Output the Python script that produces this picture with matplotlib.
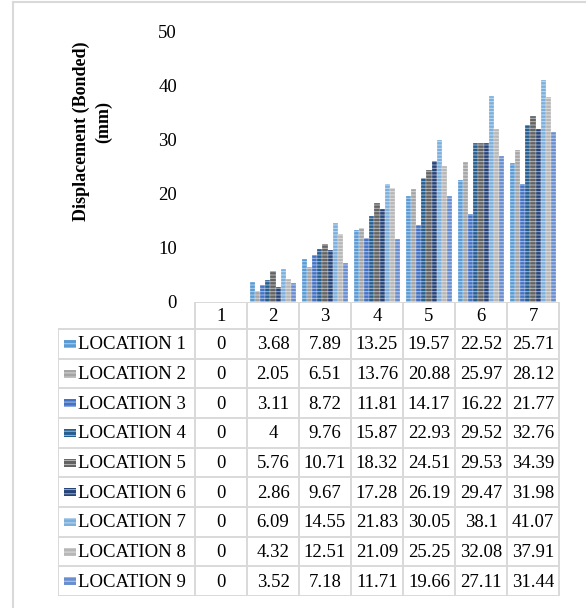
import numpy as np
import matplotlib
matplotlib.use('Agg')
from matplotlib import pyplot as plt
from matplotlib.patches import Rectangle
from matplotlib.lines import Line2D

plt.rcParams['font.family'] = ['Liberation Serif', 'DejaVu Serif']
plt.rcParams['hatch.linewidth'] = 0.7

steps = ['1', '2', '3', '4', '5', '6', '7']
locations = ['LOCATION %d' % i for i in range(1, 10)]

loc1 = [0, 3.68, 7.89, 13.25, 19.57, 22.52, 25.71]
loc2 = [0, 2.05, 6.51, 13.76, 20.88, 25.97, 28.12]
loc3 = [0, 3.11, 8.72, 11.81, 14.17, 16.22, 21.77]
loc4 = [0, 4, 9.76, 15.87, 22.93, 29.52, 32.76]
loc5 = [0, 5.76, 10.71, 18.32, 24.51, 29.53, 34.39]
loc6 = [0, 2.86, 9.67, 17.28, 26.19, 29.47, 31.98]
loc7 = [0, 6.09, 14.55, 21.83, 30.05, 38.1, 41.07]
loc8 = [0, 4.32, 12.51, 21.09, 25.25, 32.08, 37.91]
loc9 = [0, 3.52, 7.18, 11.71, 19.66, 27.11, 31.44]
series = [loc1, loc2, loc3, loc4, loc5, loc6, loc7, loc8, loc9]

colors = ['#5b9bd5', '#a5a5a5', '#4472c4', '#255e91', '#636363',
          '#264478', '#7cafdd', '#b7b7b7', '#698ed0']
grid_col = '#d9d9d9'
hatch_col = (1, 1, 1, 0.55)
fs = 13.5

W, H = 586, 608
fig = plt.figure(figsize=(W / 100, H / 100), dpi=100)

def box(x0, y0, x1, y1):
    # pixel box (top-left origin) -> figure fraction
    return [x0 / W, 1 - y1 / H, (x1 - x0) / W, (y1 - y0) / H]

# chart area border
fig.add_artist(Line2D([13 / W, 13 / W], [0, 1 - 2 / H], color=grid_col, lw=1.5))
fig.add_artist(Line2D([13 / W, 1], [1 - 2 / H, 1 - 2 / H], color=grid_col, lw=1.5))

# columns
ax = fig.add_axes(box(195, 32, 559, 302))
n = len(series)
group = 0.88
bw = group / n
x = np.arange(len(steps)) + 0.5
for i, vals in enumerate(series):
    ax.bar(x - group / 2 + bw * (i + 0.5), vals, width=bw, color=colors[i],
           edgecolor=hatch_col, linewidth=0.3, hatch='-----')
ax.set_xlim(0, len(steps))
ax.set_ylim(0, 50)
ax.set_yticks(range(0, 51, 10))
ax.set_xticks([])
ax.tick_params(axis='y', length=0, pad=13, labelsize=fs)
for s in ax.spines.values():
    s.set_visible(False)

fig.text(81 / W, 1 - 131 / H, 'Displacement (Bonded)', rotation=90,
         ha='center', va='center', fontsize=13, fontweight='bold')
fig.text(104 / W, 1 - 122 / H, '(mm)', rotation=90,
         ha='center', va='center', fontsize=13, fontweight='bold')

# data table below the columns
tb = fig.add_axes(box(58, 302, 560, 596))
xl = -(195 - 58) / 52
tb.set_xlim(xl, 7 + 1 / 52)
tb.set_ylim(294, 0)
tb.axis('off')

head = 27
rh = (294 - head) / n
lw = 1.4
tb.plot([0, 7], [0, 0], color=grid_col, lw=lw)
for k in range(len(steps) + 1):
    tb.plot([k, k], [0, 294], color=grid_col, lw=lw)
tb.plot([xl, xl], [head, 294], color=grid_col, lw=lw)
for r in range(n + 1):
    y = head + r * rh
    tb.plot([xl, 7], [y, y], color=grid_col, lw=lw)

for k, s in enumerate(steps):
    tb.text(k + 0.5, head / 2 + 1, s, ha='center', va='center', fontsize=fs)

for r, (name, vals) in enumerate(zip(locations, series)):
    yc = head + (r + 0.5) * rh
    tb.add_patch(Rectangle(((64 - 195) / 52, yc - 4), 12 / 52, 8,
                           facecolor=colors[r], edgecolor=hatch_col,
                           linewidth=0, hatch='----'))
    tb.text((78 - 195) / 52, yc + 1, name, ha='left', va='center', fontsize=fs)
    for k, v in enumerate(vals):
        tb.text(k + 0.5, yc + 1, '%g' % v, ha='center', va='center', fontsize=fs)

plt.savefig('out.png', dpi=100)
